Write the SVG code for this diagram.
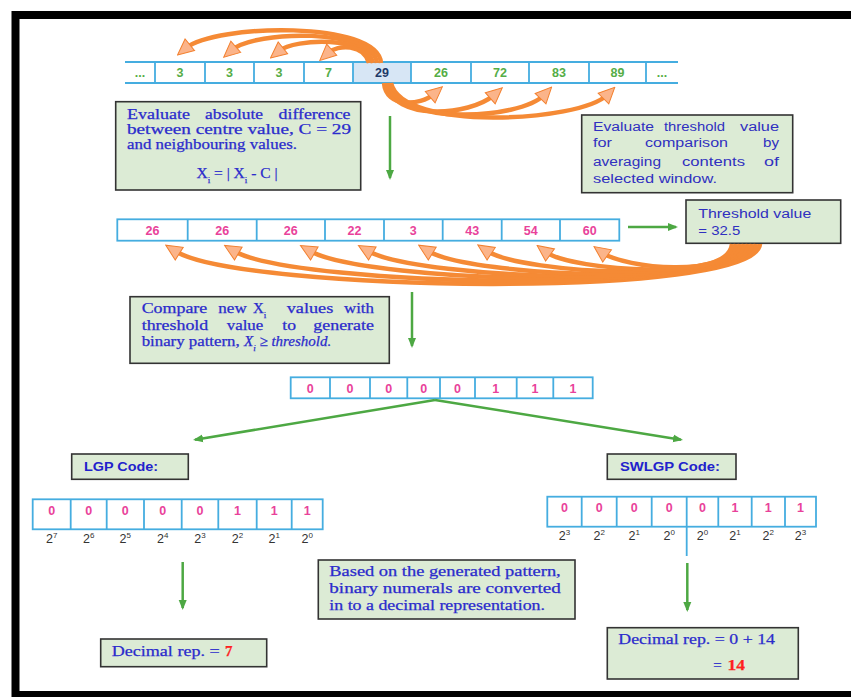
<svg xmlns="http://www.w3.org/2000/svg" width="851" height="697" viewBox="0 0 851 697">
<style>
.bx{fill:#dcebd5;stroke:#333;stroke-width:1.6}
.cl{fill:#fff;stroke:#45ade0;stroke-width:1.8}
.ln{stroke:#45ade0;stroke-width:1.8;fill:none}
.s{font-family:"Liberation Serif","Times New Roman",serif;font-size:14px;fill:#2b2bcc;stroke:#2b2bcc;stroke-width:0.25}
.ss{font-family:"Liberation Sans",Arial,sans-serif;font-size:12.5px;fill:#3030c0}
.hd{font-family:"Liberation Sans",Arial,sans-serif;font-size:13px;font-weight:bold;fill:#2222cc}
.ng{font-family:"Liberation Sans",Arial,sans-serif;font-size:12.5px;font-weight:bold;fill:#55ad46;text-anchor:middle}
.np{font-family:"Liberation Sans",Arial,sans-serif;font-size:12.5px;font-weight:bold;fill:#e9429a;text-anchor:middle}
.pw{font-family:"Liberation Sans",Arial,sans-serif;font-size:12.5px;fill:#333;text-anchor:middle}
.ga{stroke:#4da843;stroke-width:2.5;fill:none;marker-end:url(#gh)}
.oa{stroke:#f58a35;stroke-width:4.5;fill:none;marker-end:url(#oh)}
.red{fill:#ff1f1f;stroke:#ff1f1f;font-weight:bold}
</style>
<defs>
<marker id="gh" markerUnits="userSpaceOnUse" viewBox="0 0 10 10" markerWidth="10" markerHeight="10" refX="8" refY="5" orient="auto">
<path d="M0,1 L10,5 L0,9 Z" fill="#4da843"/>
</marker>
<marker id="oh" markerUnits="userSpaceOnUse" viewBox="0 0 18 18" markerWidth="18" markerHeight="18" refX="6" refY="9" orient="auto">
<path d="M1,1.5 L17,9 L1,16.5 Z" fill="#fbb48a" stroke="#f3802f" stroke-width="1"/>
</marker>
</defs>
<rect width="851" height="697" fill="#fff"/>
<rect x="15.5" y="15" width="860" height="680" fill="none" stroke="#000" stroke-width="8"/>

<g id="row-input">
<rect x="353" y="62" width="58" height="21" fill="#d7e6f5"/>
<line class="ln" x1="125" y1="62" x2="678" y2="62"/>
<line class="ln" x1="125" y1="83" x2="678" y2="83"/>
<path class="ln" d="M155,62V83M205,62V83M254,62V83M304,62V83M353,62V83M411,62V83M471,62V83M529,62V83M589,62V83M646,62V83"/>
<text class="ng" x="140" y="77">...</text>
<text class="ng" x="180" y="77">3</text>
<text class="ng" x="229.5" y="77">3</text>
<text class="ng" x="279" y="77">3</text>
<text class="ng" x="328.5" y="77">7</text>
<text class="ng" x="382" y="77" style="fill:#1f3a68">29</text>
<text class="ng" x="441" y="77">26</text>
<text class="ng" x="500" y="77">72</text>
<text class="ng" x="559" y="77">83</text>
<text class="ng" x="617.5" y="77">89</text>
<text class="ng" x="662" y="77">...</text>
</g>

<g id="box-absdiff">
<rect class="bx" x="115.7" y="101.7" width="245" height="88.3"/>
<text class="s" y="119"><tspan x="127" textLength="63" lengthAdjust="spacingAndGlyphs">Evaluate</tspan> <tspan x="205" textLength="58" lengthAdjust="spacingAndGlyphs">absolute</tspan> <tspan x="278.5" textLength="72" lengthAdjust="spacingAndGlyphs">difference</tspan></text>
<text class="s" x="127" y="134" textLength="224" lengthAdjust="spacingAndGlyphs">between centre value, C = 29</text>
<text class="s" x="127" y="149" textLength="170" lengthAdjust="spacingAndGlyphs">and neighbouring values.</text>
<text class="s" x="237" y="178" text-anchor="middle" style="font-size:15.5px">X<tspan baseline-shift="sub" font-size="9">i</tspan> = | X<tspan baseline-shift="sub" font-size="9">i</tspan> - C |</text>
</g>

<g id="box-threshold-eval">
<rect class="bx" x="581.7" y="115" width="211" height="77.7"/>
<text class="ss" y="131"><tspan x="593" textLength="61" lengthAdjust="spacingAndGlyphs">Evaluate</tspan> <tspan x="664" textLength="61" lengthAdjust="spacingAndGlyphs">threshold</tspan> <tspan x="740" textLength="39" lengthAdjust="spacingAndGlyphs">value</tspan></text>
<text class="ss" y="147"><tspan x="593" textLength="19" lengthAdjust="spacingAndGlyphs">for</tspan> <tspan x="645" textLength="83" lengthAdjust="spacingAndGlyphs">comparison</tspan> <tspan x="763" textLength="16" lengthAdjust="spacingAndGlyphs">by</tspan></text>
<text class="ss" y="166"><tspan x="593" textLength="68" lengthAdjust="spacingAndGlyphs">averaging</tspan> <tspan x="682" textLength="63" lengthAdjust="spacingAndGlyphs">contents</tspan> <tspan x="764" textLength="15" lengthAdjust="spacingAndGlyphs">of</tspan></text>
<text class="ss" x="593" y="183" textLength="124" lengthAdjust="spacingAndGlyphs">selected window.</text>
</g>

<g id="row-diff">
<rect class="cl" x="117.3" y="219.3" width="502" height="21.4"/>
<path class="ln" d="M187.7,219.3V240.7M256.7,219.3V240.7M325,219.3V240.7M384,219.3V240.7M442.7,219.3V240.7M501.7,219.3V240.7M560,219.3V240.7"/>
<text class="np" x="152.5" y="234.5">26</text>
<text class="np" x="222.2" y="234.5">26</text>
<text class="np" x="290.8" y="234.5">26</text>
<text class="np" x="354.5" y="234.5">22</text>
<text class="np" x="413.3" y="234.5">3</text>
<text class="np" x="472.2" y="234.5">43</text>
<text class="np" x="530.8" y="234.5">54</text>
<text class="np" x="589.7" y="234.5">60</text>
</g>

<g id="box-threshold-value">
<rect class="bx" x="686" y="200" width="154.7" height="43.3"/>
<text class="ss" x="698.3" y="217.5" textLength="113" lengthAdjust="spacingAndGlyphs">Threshold value</text>
<text class="ss" x="698.3" y="234.5" textLength="42" lengthAdjust="spacingAndGlyphs">= 32.5</text>
</g>

<g id="box-compare">
<rect class="bx" x="130" y="296.7" width="259.3" height="66.6"/>
<text class="s" y="313"><tspan x="141.7" textLength="65.6" lengthAdjust="spacingAndGlyphs">Compare</tspan> <tspan x="218.3" textLength="28.4" lengthAdjust="spacingAndGlyphs">new</tspan> <tspan x="253" style="font-size:15px">X<tspan baseline-shift="sub" font-size="9">i</tspan></tspan> <tspan x="286.7" textLength="46.6" lengthAdjust="spacingAndGlyphs">values</tspan> <tspan x="344" textLength="30" lengthAdjust="spacingAndGlyphs">with</tspan></text>
<text class="s" y="329.5"><tspan x="141.7" textLength="66.6" lengthAdjust="spacingAndGlyphs">threshold</tspan> <tspan x="226.7" textLength="36.6" lengthAdjust="spacingAndGlyphs">value</tspan> <tspan x="282.3" textLength="13.7" lengthAdjust="spacingAndGlyphs">to</tspan> <tspan x="313.3" textLength="60.7" lengthAdjust="spacingAndGlyphs">generate</tspan></text>
<text class="s" y="345.5"><tspan x="141.7" textLength="98" lengthAdjust="spacingAndGlyphs">binary pattern,</tspan> <tspan x="244" font-style="italic" style="font-size:15px">X<tspan baseline-shift="sub" font-size="9">i</tspan> ≥ threshold.</tspan></text>
</g>

<g id="row-binary">
<rect class="cl" x="290.7" y="377.3" width="302" height="21"/>
<path class="ln" d="M330,377.3V398.3M370,377.3V398.3M407.3,377.3V398.3M440,377.3V398.3M475,377.3V398.3M516.7,377.3V398.3M553.3,377.3V398.3"/>
<text class="np" x="310.3" y="392.5">0</text>
<text class="np" x="350" y="392.5">0</text>
<text class="np" x="388.7" y="392.5">0</text>
<text class="np" x="423.7" y="392.5">0</text>
<text class="np" x="457.5" y="392.5">0</text>
<text class="np" x="495.8" y="392.5">1</text>
<text class="np" x="535" y="392.5">1</text>
<text class="np" x="573" y="392.5">1</text>
</g>

<g id="box-lgp-label">
<rect class="bx" x="71.7" y="454" width="116.6" height="25.3"/>
<text class="hd" x="84" y="471" textLength="74" lengthAdjust="spacingAndGlyphs">LGP Code:</text>
</g>

<g id="box-swlgp-label">
<rect class="bx" x="607.3" y="454" width="128.7" height="25.3"/>
<text class="hd" x="620" y="471" textLength="100" lengthAdjust="spacingAndGlyphs">SWLGP Code:</text>
</g>

<g id="row-lgp">
<rect class="cl" x="32.7" y="499.3" width="290" height="30"/>
<path class="ln" d="M70.7,499.3V529.3M106.7,499.3V529.3M144,499.3V529.3M181.7,499.3V529.3M218.3,499.3V529.3M256.7,499.3V529.3M291.7,499.3V529.3"/>
<text class="np" x="51.7" y="514.5">0</text>
<text class="np" x="88.7" y="514.5">0</text>
<text class="np" x="125.3" y="514.5">0</text>
<text class="np" x="162.8" y="514.5">0</text>
<text class="np" x="200" y="514.5">0</text>
<text class="np" x="237.5" y="514.5">1</text>
<text class="np" x="274.2" y="514.5">1</text>
<text class="np" x="307.2" y="514.5">1</text>
<text class="pw" x="51.7" y="543">2<tspan dy="-5" font-size="8">7</tspan></text>
<text class="pw" x="88.7" y="543">2<tspan dy="-5" font-size="8">6</tspan></text>
<text class="pw" x="125.3" y="543">2<tspan dy="-5" font-size="8">5</tspan></text>
<text class="pw" x="162.8" y="543">2<tspan dy="-5" font-size="8">4</tspan></text>
<text class="pw" x="200" y="543">2<tspan dy="-5" font-size="8">3</tspan></text>
<text class="pw" x="237.5" y="543">2<tspan dy="-5" font-size="8">2</tspan></text>
<text class="pw" x="274.2" y="543">2<tspan dy="-5" font-size="8">1</tspan></text>
<text class="pw" x="307.2" y="543">2<tspan dy="-5" font-size="8">0</tspan></text>
</g>

<g id="row-swlgp">
<rect class="cl" x="547.3" y="496.7" width="268.7" height="30"/>
<path class="ln" d="M581.7,496.7V526.7M616.7,496.7V526.7M651.7,496.7V526.7M686.7,496.7V556M718.3,496.7V526.7M751.7,496.7V526.7M785,496.7V526.7"/>
<text class="np" x="564.5" y="512">0</text>
<text class="np" x="599.2" y="512">0</text>
<text class="np" x="634.2" y="512">0</text>
<text class="np" x="669.2" y="512">0</text>
<text class="np" x="702.5" y="512">0</text>
<text class="np" x="735" y="512">1</text>
<text class="np" x="768.3" y="512">1</text>
<text class="np" x="800.5" y="512">1</text>
<text class="pw" x="564.5" y="540">2<tspan dy="-5" font-size="8">3</tspan></text>
<text class="pw" x="599.2" y="540">2<tspan dy="-5" font-size="8">2</tspan></text>
<text class="pw" x="634.2" y="540">2<tspan dy="-5" font-size="8">1</tspan></text>
<text class="pw" x="669.2" y="540">2<tspan dy="-5" font-size="8">0</tspan></text>
<text class="pw" x="702.5" y="540">2<tspan dy="-5" font-size="8">0</tspan></text>
<text class="pw" x="735" y="540">2<tspan dy="-5" font-size="8">1</tspan></text>
<text class="pw" x="768.3" y="540">2<tspan dy="-5" font-size="8">2</tspan></text>
<text class="pw" x="800.5" y="540">2<tspan dy="-5" font-size="8">3</tspan></text>
</g>

<g id="box-based">
<rect class="bx" x="318.3" y="560" width="256.7" height="59"/>
<text class="s" x="329.3" y="575.5" textLength="231.4" lengthAdjust="spacingAndGlyphs">Based on the generated pattern,</text>
<text class="s" x="329.3" y="592.5" textLength="231.4" lengthAdjust="spacingAndGlyphs">binary numerals are converted</text>
<text class="s" x="329.3" y="609.5" textLength="215.7" lengthAdjust="spacingAndGlyphs">in to a decimal representation.</text>
</g>

<g id="box-decimal-lgp">
<rect class="bx" x="100.7" y="639" width="166" height="27.7"/>
<text class="s" y="656" style="font-size:15px"><tspan x="111.7" textLength="108" lengthAdjust="spacingAndGlyphs">Decimal rep. =</tspan> <tspan x="225" class="red">7</tspan></text>
</g>

<g id="box-decimal-swlgp">
<rect class="bx" x="607.3" y="627.7" width="191" height="51.3"/>
<text class="s" x="618.3" y="643.5" style="font-size:15px" textLength="156.7" lengthAdjust="spacingAndGlyphs">Decimal rep. = 0 + 14</text>
<text class="s" y="670" style="font-size:15px"><tspan x="713.3">=</tspan> <tspan x="727.5" class="red" textLength="17.5" lengthAdjust="spacingAndGlyphs">14</tspan></text>
</g>

<g id="connectors">
<path class="oa" d="M381,63 C378,20 215,24 186,48"/>
<path class="oa" d="M377,63 C373,28 255,30 232,50"/>
<path class="oa" d="M373,63 C368,36 295,38 279,51"/>
<path class="oa" d="M369,63 C364,44 338,44 328,53"/>
<path class="oa" d="M384,83 C386,108 420,106 434,94"/>
<path class="oa" d="M387,83 C392,122 470,116 494,95"/>
<path class="oa" d="M389,83 C396,126 520,120 544,95"/>
<path class="oa" d="M391,83 C402,132 580,122 607,95"/>
<path class="oa" d="M760,244 C757,300 240,292 175,251"/>
<path class="oa" d="M756,244 C753,297 295,287 234,251"/>
<path class="oa" d="M752,244 C749,294 365,283 310,251"/>
<path class="oa" d="M748,244 C745,291 418,280 368,251"/>
<path class="oa" d="M744,244 C741,288 470,277 428,251"/>
<path class="oa" d="M740,244 C737,285 522,274 487,251"/>
<path class="oa" d="M736,244 C733,282 572,271 546,252"/>
<path class="oa" d="M732,244 C729,279 624,268 603,253"/>
<path class="ga" d="M390,116 V178"/>
<path class="ga" d="M628,227 H676"/>
<path class="ga" d="M412,292 V346"/>
<path class="ga" d="M435,400 L195,439.7"/>
<path class="ga" d="M435,400 L681,439.7"/>
<path class="ga" d="M182.7,562 V608"/>
<path class="ga" d="M687.3,563 V610"/>
</g>
</svg>
